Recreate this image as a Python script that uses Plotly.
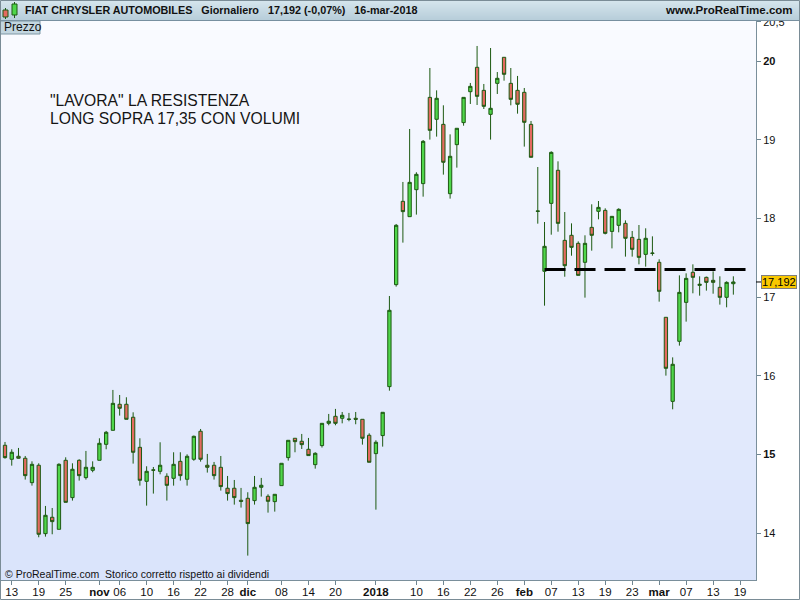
import pandas as pd
import plotly.graph_objects as go

# ---------------- data ----------------
holidays = ["2017-12-25", "2017-12-26", "2018-01-01"]

open_ = [15.117, 14.939, 14.977, 14.952, 14.642, 14.863, 13.994, 14.202, 14.049, 14.926,
         14.452, 14.926, 14.706, 14.799, 14.926, 15.129, 15.307, 15.638, 15.638, 15.473,
         15.091, 14.659, 14.805, 14.786, 14.723, 14.697, 14.913, 14.685, 14.939,
         15.295, 14.863, 14.863, 14.837, 14.571, 14.571, 14.418, 14.443, 14.414, 14.583,
         14.469, 14.401, 14.604, 14.960, 15.206, 15.168, 15.066, 14.871, 15.113, 15.396,
         15.485, 15.460, 15.450, 15.460, 15.447, 15.244, 15.011, 15.240,
         15.862, 17.158, 18.217, 18.022, 18.365, 18.442, 19.538, 19.259, 19.195, 18.314,
         18.937, 19.217, 19.610, 19.920, 19.627, 19.322, 19.716, 20.047, 19.716, 19.627,
         19.602, 19.195, 18.095,
         17.328, 18.191, 18.611, 17.721, 17.785, 17.683, 17.442, 17.886, 18.090, 18.102,
         17.835, 17.912, 17.937, 17.759, 17.734, 17.543, 17.560, 17.442, 16.743, 15.675,
         16.438, 16.933, 17.315, 17.149, 17.251, 17.213, 17.124, 16.997, 17.170]
high = [15.159, 15.066, 15.083, 14.981, 14.913, 14.888, 14.346, 14.320, 14.888, 14.964,
        14.888, 14.939, 15.045, 14.913, 15.206, 15.299, 15.820, 15.756, 15.727, 15.536,
        15.206, 14.850, 14.841, 15.155, 14.761, 15.028, 15.028, 15.002, 15.240,
        15.324, 15.007, 14.905, 14.981, 14.727, 14.676, 14.575, 14.520, 14.727, 14.702,
        14.494, 14.494, 14.888, 15.180, 15.206, 15.261, 15.210, 15.028, 15.396, 15.515,
        15.579, 15.540, 15.528, 15.540, 15.447, 15.269, 15.180, 15.536,
        17.014, 17.929, 18.463, 19.136, 18.586, 18.996, 19.911, 19.627, 19.437, 19.068,
        19.145, 19.538, 19.721, 20.191, 19.708, 20.165, 19.860, 20.047, 19.911, 19.810,
        19.657, 19.238, 18.653,
        17.954, 18.852, 18.725, 18.081, 17.937, 17.708, 17.785, 18.179, 18.221, 18.128,
        18.026, 18.128, 17.975, 17.840, 17.916, 17.874, 17.772, 17.480, 16.743, 16.234,
        17.276, 17.302, 17.416, 17.264, 17.260, 17.327, 17.264, 17.200, 17.264]
low = [14.947, 14.858, 14.947, 14.681, 14.604, 13.948, 13.956, 13.986, 14.049, 14.392,
       14.414, 14.668, 14.681, 14.774, 14.926, 15.066, 15.307, 15.494, 15.447, 14.884,
       14.604, 14.350, 14.503, 14.748, 14.414, 14.604, 14.668, 14.604, 14.920,
       14.909, 14.770, 14.681, 14.541, 14.414, 14.363, 14.325, 13.715, 14.363, 14.465,
       14.261, 14.274, 14.604, 14.922, 15.028, 15.070, 14.986, 14.820, 15.088, 15.371,
       15.371, 15.396, 15.422, 15.384, 15.125, 14.901, 14.299, 15.100,
       15.811, 17.133, 17.692, 18.022, 18.048, 18.276, 19.001, 19.039, 18.556, 18.251,
       18.645, 19.178, 19.454, 19.441, 19.390, 19.001, 19.581, 19.750, 19.437, 19.331,
       18.912, 18.776, 17.933,
       16.891, 17.793, 17.831, 17.259, 17.526, 17.276, 16.993, 17.590, 17.988, 17.797,
       17.619, 17.823, 17.514, 17.514, 17.416, 17.387, 17.526, 16.942, 16.002, 15.574,
       16.383, 16.688, 17.048, 17.018, 17.082, 17.043, 16.904, 16.870, 17.031]
close = [14.960, 15.028, 14.952, 14.731, 14.875, 13.986, 14.227, 14.147, 14.875, 14.392,
         14.812, 14.731, 14.837, 14.837, 15.142, 15.282, 15.650, 15.587, 15.447, 15.028,
         14.672, 14.786, 14.800, 14.863, 14.608, 14.875, 14.731, 14.977, 15.231,
         14.939, 14.837, 14.731, 14.592, 14.503, 14.452, 14.405, 14.122, 14.583, 14.609,
         14.405, 14.494, 14.888, 15.180, 15.163, 15.125, 14.986, 15.015, 15.396, 15.422,
         15.396, 15.498, 15.447, 15.447, 15.206, 14.901, 15.155, 15.536,
         16.832, 17.912, 18.086, 18.458, 18.560, 18.979, 19.119, 19.526, 18.713, 18.789,
         19.145, 19.538, 19.678, 19.551, 19.424, 19.399, 19.780, 19.831, 19.513, 19.450,
         19.221, 18.776, 18.090,
         17.645, 18.839, 17.937, 17.399, 17.632, 17.276, 17.683, 17.785, 18.140, 17.810,
         18.026, 18.115, 17.747, 17.607, 17.505, 17.747, 17.556, 17.073, 16.095, 16.146,
         17.060, 17.238, 17.251, 17.162, 17.187, 17.187, 16.997, 17.187, 17.192]

tick_dates = ["2017-10-13", "2017-10-19", "2017-10-25", "2017-11-01", "2017-11-06",
              "2017-11-10", "2017-11-16", "2017-11-22", "2017-11-28", "2017-12-01",
              "2017-12-08", "2017-12-14", "2017-12-20", "2018-01-02", "2018-01-10",
              "2018-01-16", "2018-01-22", "2018-01-26", "2018-02-01", "2018-02-07",
              "2018-02-13", "2018-02-19", "2018-02-23", "2018-03-01", "2018-03-07",
              "2018-03-13", "2018-03-19"]
tick_labels = ["13", "19", "25", "<b>nov</b>", "06", "10", "16", "22", "28", "<b>dic</b>",
               "08", "14", "20", "<b>2018</b>", "10", "16", "22", "26", "<b>feb</b>", "07",
               "13", "19", "23", "<b>mar</b>", "07", "13", "19"]

y_tick_vals = [14, 15, 16, 17, 18, 19, 20, 20.5]
y_tick_text = ["14", "<b>15</b>", "16", "17", "18", "19", "<b>20</b>", "20,5"]

resistance_level = 17.35
resistance_start = "2018-02-06"
resistance_end = "2018-03-20"

title_text = "FIAT CHRYSLER AUTOMOBILES   Giornaliero   17,192 (-0,07%)   16-mar-2018"
last_price_text = "17,192"
note_lines = ['"LAVORA" LA RESISTENZA', "LONG SOPRA 17,35 CON VOLUMI"]

# ---------------- positions ----------------
days = [d for d in pd.bdate_range("2017-10-12", "2018-03-30")
        if d.strftime("%Y-%m-%d") not in holidays]
pos = {d.strftime("%Y-%m-%d"): i for i, d in enumerate(days)}
x = list(range(len(open_)))
tick_pos = [pos[d] for d in tick_dates]

FONT = "Liberation Sans, Arial, sans-serif"
W, H = 800, 600
L, R, T, B = 1, 44, 20, 20
PW, PH = W - L - R, H - T - B


def px(v):
    return (v - L) / PW


def py(v):
    return (H - B - v) / PH


fig = go.Figure()

fig.add_trace(go.Candlestick(
    x=x, open=open_, high=high, low=low, close=close,
    increasing=dict(line=dict(color="#1d5a12", width=1), fillcolor="#4fd64a"),
    decreasing=dict(line=dict(color="#1d5a12", width=1), fillcolor="#e46a60"),
    whiskerwidth=0, showlegend=False, hoverinfo="skip",
))

fig.add_trace(go.Scatter(
    x=[pos[resistance_start], pos[resistance_end]],
    y=[resistance_level, resistance_level],
    mode="lines", line=dict(color="#000000", width=3, dash="21px,9px"),
    showlegend=False, hoverinfo="skip",
))

shapes = []
# plot background gradient
N = 56
top_c = (250, 251, 255)
bot_c = (217, 227, 251)
for i in range(N):
    t = (i + 0.5) / N
    c = tuple(round(top_c[k] + (bot_c[k] - top_c[k]) * t) for k in range(3))
    shapes.append(dict(type="rect", xref="paper", yref="paper", layer="below",
                       x0=0, x1=1, y0=1 - (i + 1) / N, y1=1 - i / N,
                       fillcolor="rgb(%d,%d,%d)" % c, line=dict(width=0)))
# header gradient
hN = 20
h_top = (214, 230, 238)
h_bot = (183, 205, 217)
for i in range(hN):
    t = (i + 0.5) / hN
    c = tuple(round(h_top[k] + (h_bot[k] - h_top[k]) * t) for k in range(3))
    shapes.append(dict(type="rect", xref="paper", yref="paper", layer="above",
                       x0=px(0), x1=px(800), y0=py(i + 1), y1=py(i),
                       fillcolor="rgb(%d,%d,%d)" % c, line=dict(width=0)))
shapes.append(dict(type="line", xref="paper", yref="paper", x0=px(0), x1=px(800),
                   y0=py(20.5), y1=py(20.5), line=dict(color="#7890a0", width=1)))
# header icon
shapes.append(dict(type="line", xref="paper", yref="paper", x0=px(5.5), x1=px(5.5),
                   y0=py(19), y1=py(8), line=dict(color="#1d5a12", width=1)))
shapes.append(dict(type="rect", xref="paper", yref="paper", x0=px(3), x1=px(8),
                   y0=py(17), y1=py(10), fillcolor="#e46a60",
                   line=dict(color="#1d5a12", width=1)))
shapes.append(dict(type="line", xref="paper", yref="paper", x0=px(14.5), x1=px(14.5),
                   y0=py(18), y1=py(2), line=dict(color="#1d5a12", width=1)))
shapes.append(dict(type="rect", xref="paper", yref="paper", x0=px(12), x1=px(17),
                   y0=py(15), y1=py(4), fillcolor="#4fd64a",
                   line=dict(color="#1d5a12", width=1)))
# "Prezzo" box
shapes.append(dict(type="rect", xref="paper", yref="paper", x0=px(0.5), x1=px(40),
                   y0=py(34), y1=py(21), fillcolor="#c3d6e0",
                   line=dict(color="#7f97a5", width=1)))
# last price marker tick
shapes.append(dict(type="line", xref="paper", yref="y", x0=px(756), x1=px(761),
                   y0=close[-1], y1=close[-1], line=dict(color="#000000", width=1)))
# outer frame
shapes.append(dict(type="rect", xref="paper", yref="paper", x0=px(0.5), x1=px(799.5),
                   y0=py(599.5), y1=py(0.5), line=dict(color="#7a8c96", width=1)))

annotations = [
    dict(xref="paper", yref="paper", x=px(23), y=py(10), xanchor="left", yanchor="middle",
         text="<b>" + title_text.replace("   ", "&nbsp;&nbsp;&nbsp;") + "</b>",
         showarrow=False, font=dict(family=FONT, size=10.8, color="#111111")),
    dict(xref="paper", yref="paper", x=px(795), y=py(10), xanchor="right", yanchor="middle",
         text="<b>www.ProRealTime.com</b>", showarrow=False,
         font=dict(family=FONT, size=11.5, color="#111111")),
    dict(xref="paper", yref="paper", x=px(2), y=py(27.5), xanchor="left", yanchor="middle",
         text="Prezzo", showarrow=False, font=dict(family=FONT, size=12, color="#111111")),
    dict(xref="paper", yref="paper", x=px(48), y=py(100), xanchor="left", yanchor="middle",
         text=note_lines[0], showarrow=False, font=dict(family=FONT, size=15.7, color="#151515")),
    dict(xref="paper", yref="paper", x=px(48), y=py(118), xanchor="left", yanchor="middle",
         text=note_lines[1], showarrow=False, font=dict(family=FONT, size=15.7, color="#151515")),
    dict(xref="paper", yref="paper", x=px(3), y=py(574), xanchor="left", yanchor="middle",
         text="© ProRealTime.com  Storico corretto rispetto ai dividendi", showarrow=False,
         font=dict(family=FONT, size=10.5, color="#111111")),
    dict(xref="paper", yref="y", x=px(761), y=close[-1], xanchor="left", yanchor="middle",
         text=last_price_text, showarrow=False, bgcolor="#f9c800", bordercolor="#7f7f7f",
         borderwidth=1, borderpad=0, font=dict(family=FONT, size=11, color="#000000")),
]

fig.update_layout(
    template="none",
    width=W, height=H,
    margin=dict(l=L, r=R, t=T, b=B, pad=0),
    paper_bgcolor="#ffffff",
    plot_bgcolor="#f0f4fd",
    font=dict(family=FONT, size=12, color="#111111"),
    showlegend=False,
    shapes=shapes,
    annotations=annotations,
    xaxis=dict(
        range=[(L - 5) / 6.744, (W - R - 5) / 6.744],
        tickmode="array", tickvals=tick_pos, ticktext=tick_labels,
        ticks="outside", ticklen=4, tickcolor="#6f8591", tickwidth=1,
        ticklabelstandoff=-3,
        showgrid=False, zeroline=False, showline=True, linecolor="#7a8f9b",
        linewidth=1, mirror=True, rangeslider=dict(visible=False),
        tickfont=dict(family=FONT, size=11.5, color="#111111"), automargin=False,
        fixedrange=True,
    ),
    yaxis=dict(
        range=[13.405, 20.521], side="right",
        tickmode="array", tickvals=y_tick_vals, ticktext=y_tick_text,
        ticks="outside", ticklen=4, tickcolor="#6f8591", tickwidth=1,
        showgrid=False, zeroline=False, showline=True, linecolor="#7a8f9b",
        linewidth=1, mirror=True,
        tickfont=dict(family=FONT, size=11, color="#111111"), automargin=False,
        fixedrange=True,
    ),
)

fig.write_html(
    "out.html",
    config={"displayModeBar": False},
    post_script="document.body.style.margin='0px';document.body.style.overflow='hidden';",
)
